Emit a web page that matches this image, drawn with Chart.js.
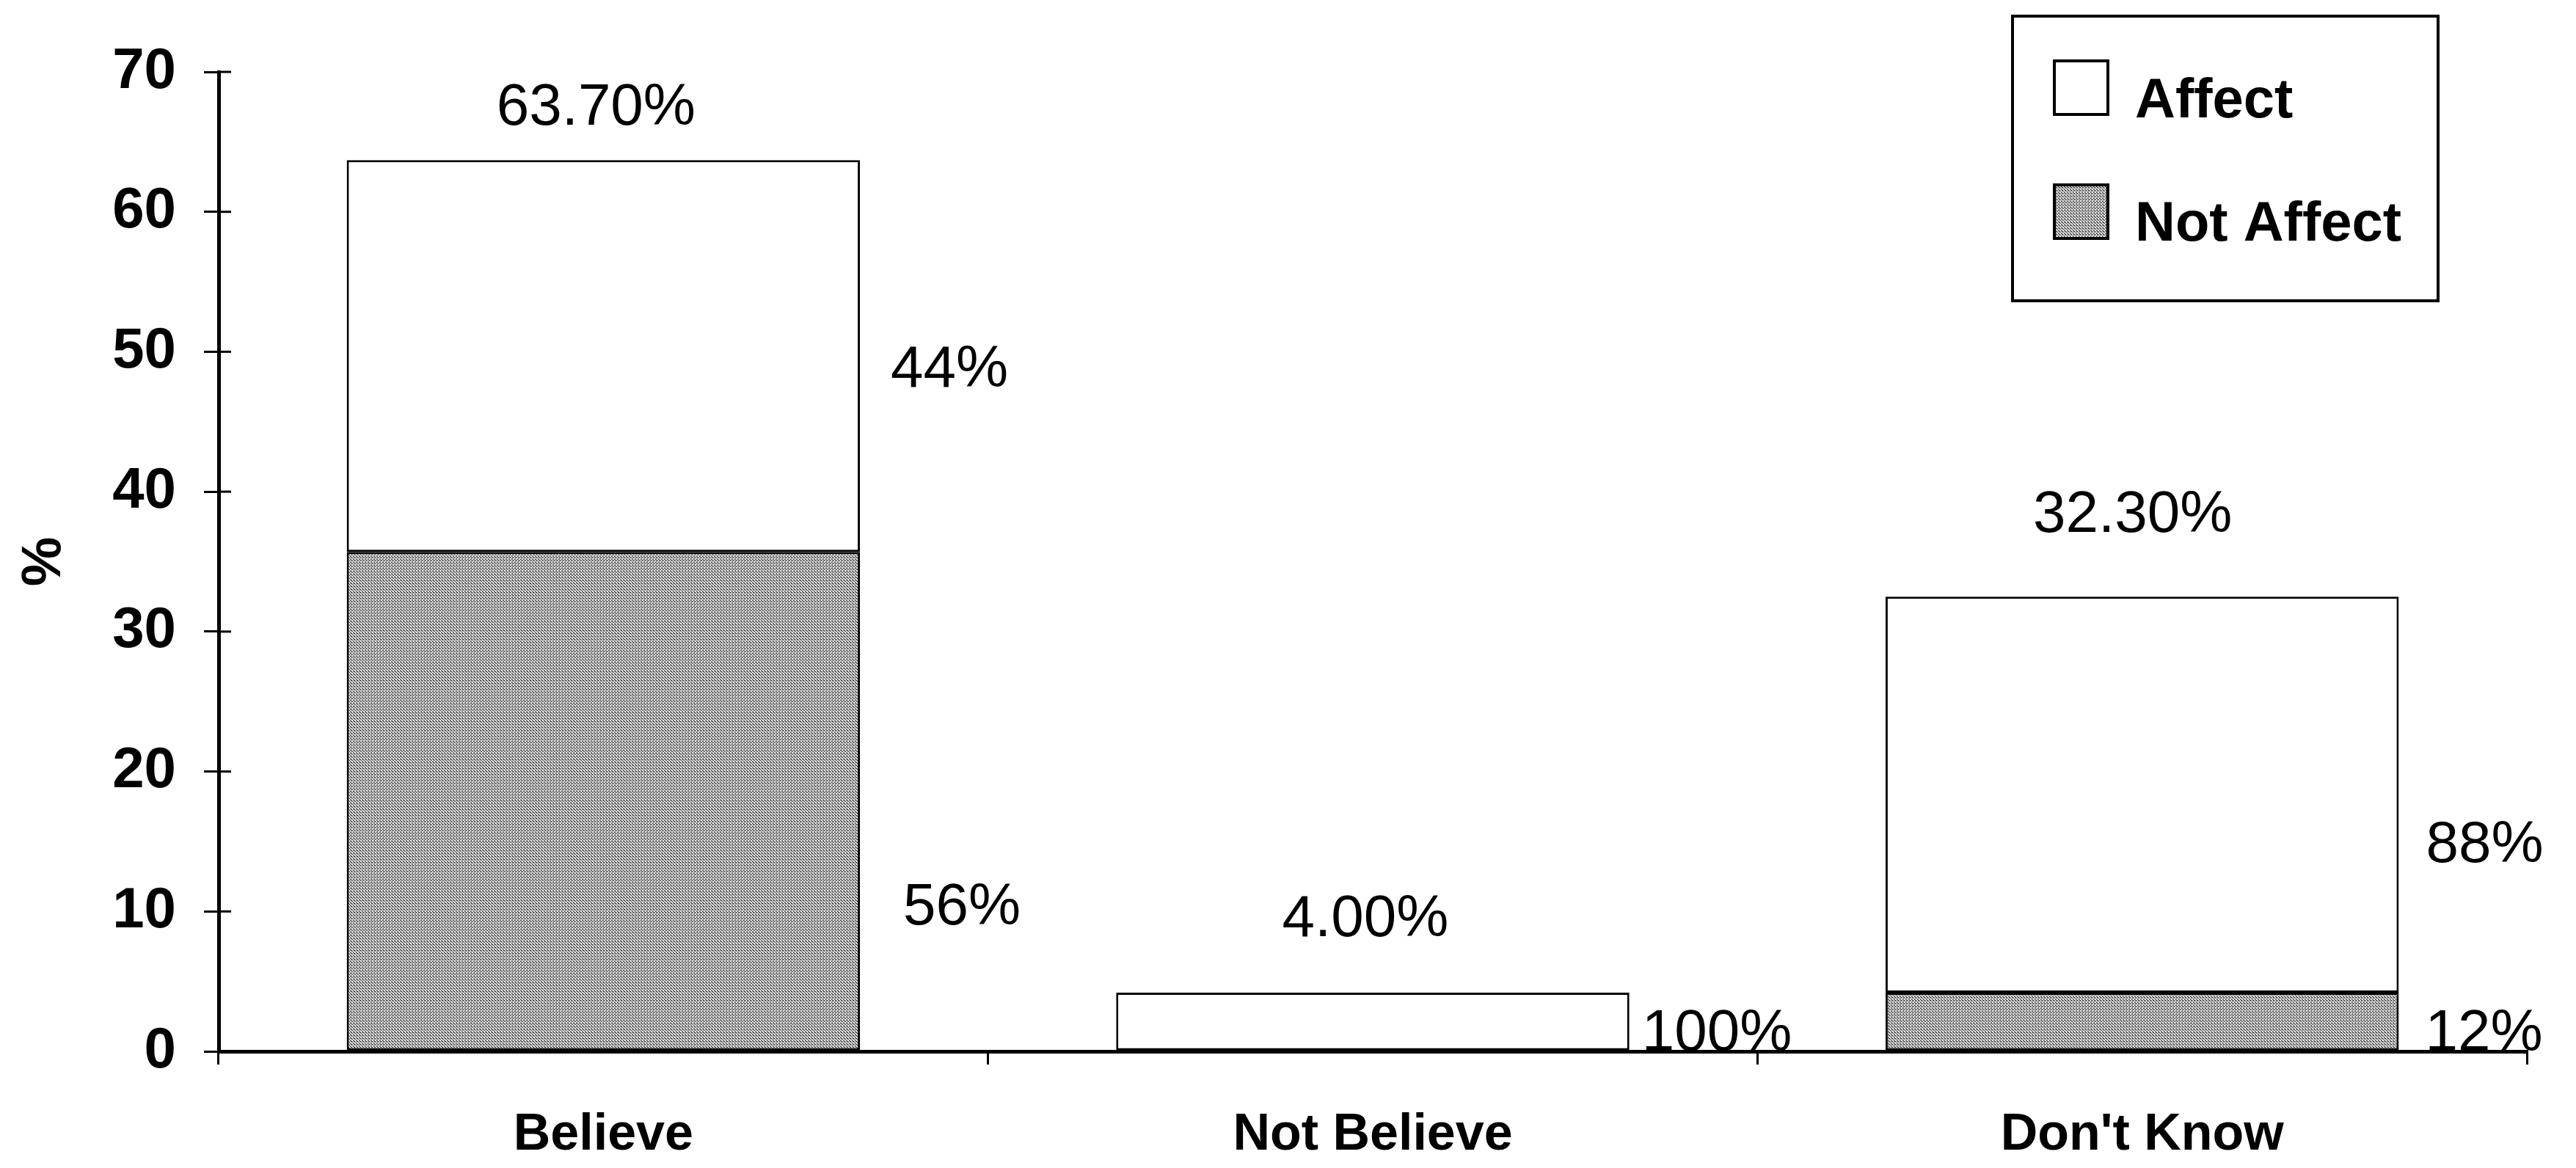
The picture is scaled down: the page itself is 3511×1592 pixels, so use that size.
<!DOCTYPE html>
<html><head><meta charset="utf-8">
<script src="https://cdn.jsdelivr.net/npm/chart.js@4.4.0/dist/chart.umd.min.js"></script>
<style>html,body{margin:0;padding:0;background:#fff;} canvas{display:block;}</style>
</head><body>
<canvas id="c" width="3511" height="1592"></canvas>
<script>
// ---- data ----
const categories = ["Believe", "Not Believe", "Don't Know"];
const seriesNames = ["Affect", "Not Affect"];
const notAffectValues = [35.7, 0, 4.2];
const affectValues = [28.0, 4.2, 28.3];
const totalLabels = ["63.70%", "4.00%", "32.30%"];
const affectShareLabels = ["44%", "100%", "88%"];
const notAffectShareLabels = ["56%", "", "12%"];
const yTickValues = [0, 10, 20, 30, 40, 50, 60, 70];

const FONT = '"Liberation Sans", Arial, Helvetica, sans-serif';

// stipple pattern for "Not Affect"
function makePattern() {
  const p = document.createElement('canvas');
  p.width = 4; p.height = 4;
  const g = p.getContext('2d');
  g.fillStyle = '#e2e2e2';
  g.fillRect(0, 0, 4, 4);
  g.fillStyle = '#1a1a1a';
  [[0,0],[2,1],[1,2],[3,3],[2,3]].forEach(([x,y]) => g.fillRect(x, y, 1, 1));
  return document.getElementById('c').getContext('2d').createPattern(p, 'repeat');
}
const stipple = makePattern();

const notesPlugin = {
  id: 'barNotes',
  afterDatasetsDraw(chart, args, opts) {
    const ctx = chart.ctx;
    const ys = chart.scales.y;
    const area = chart.chartArea;
    ctx.save();
    // inner tick stubs on y axis
    ctx.strokeStyle = '#000';
    ctx.lineWidth = 3;
    yTickValues.forEach(v => {
      const py = ys.getPixelForValue(v);
      ctx.beginPath();
      ctx.moveTo(area.left, py);
      ctx.lineTo(area.left + opts.innerTick, py);
      ctx.stroke();
    });
    // labels
    const fs = opts.fontSize;
    ctx.font = fs + 'px ' + FONT;
    ctx.fillStyle = '#000';
    ctx.textBaseline = 'alphabetic';
    const topMeta = chart.getDatasetMeta(1);
    categories.forEach((c, i) => {
      const bar = topMeta.data[i];
      const p = bar.getProps(['x', 'width'], true);
      ctx.textAlign = 'center';
      ctx.fillText(totalLabels[i], p.x + opts.totalDx[i], ys.getPixelForValue(opts.totalY[i]) + 0.358 * fs);
      ctx.textAlign = 'left';
      const right = p.x + p.width / 2;
      if (affectShareLabels[i]) {
        ctx.fillText(affectShareLabels[i], right + opts.affectDx[i], ys.getPixelForValue(opts.affectY[i]) + 0.358 * fs);
      }
      if (notAffectShareLabels[i]) {
        ctx.fillText(notAffectShareLabels[i], right + opts.notAffectDx[i], ys.getPixelForValue(opts.notAffectY[i]) + 0.358 * fs);
      }
    });
    // legend
    const L = opts.legend;
    ctx.lineWidth = 4;
    ctx.strokeStyle = '#000';
    ctx.fillStyle = '#fff';
    ctx.fillRect(L.x, L.y, L.w, L.h);
    ctx.strokeRect(L.x, L.y, L.w, L.h);
    ctx.font = 'bold ' + L.fontSize + 'px ' + FONT;
    ctx.textAlign = 'left';
    const fills = ['#ffffff', stipple];
    seriesNames.forEach((name, k) => {
      const sy = L.swatchY[k];
      ctx.fillStyle = fills[k];
      ctx.fillRect(L.swatchX, sy, L.swatch, L.swatch);
      ctx.lineWidth = 4;
      ctx.strokeRect(L.swatchX, sy, L.swatch, L.swatch);
      ctx.fillStyle = '#000';
      ctx.fillText(name, L.textX, L.textBase[k]);
    });
    ctx.restore();
  }
};

new Chart(document.getElementById('c'), {
  type: 'bar',
  data: {
    labels: categories,
    datasets: [
      { label: seriesNames[1], data: notAffectValues, backgroundColor: stipple, borderColor: '#000', borderWidth: 3, borderSkipped: false },
      { label: seriesNames[0], data: affectValues, backgroundColor: '#ffffff', borderColor: '#000', borderWidth: 3, borderSkipped: false }
    ]
  },
  options: {
    responsive: false,
    animation: false,
    devicePixelRatio: 1,
    layout: { padding: { top: 98, right: 67, left: 0, bottom: 0 } },
    datasets: { bar: { barPercentage: 0.667, categoryPercentage: 1.0 } },
    scales: {
      x: {
        stacked: true,
        afterFit: s => { s.height = 159; },
        border: { display: true, color: '#000', width: 5 },
        grid: { offset: true, drawOnChartArea: false, drawTicks: true, tickLength: 18, color: '#000', lineWidth: 3 },
        ticks: { color: '#000', padding: 55, font: { family: FONT, size: 70, weight: 'bold' } }
      },
      y: {
        stacked: true,
        min: 0, max: 70,
        afterFit: s => { s.width = 298; },
        afterBuildTicks: s => { s.ticks = yTickValues.map(v => ({ value: v })); },
        border: { display: true, color: '#000', width: 5 },
        grid: { drawOnChartArea: false, drawTicks: true, tickLength: 20, color: '#000', lineWidth: 3 },
        ticks: { color: '#000', padding: 38, font: { family: FONT, size: 78, weight: 'bold' } },
        title: { display: true, text: '%', color: '#000', padding: { top: 15, bottom: 0 }, font: { family: FONT, size: 76, weight: 'bold' } }
      }
    },
    plugins: {
      legend: { display: false },
      tooltip: { enabled: false },
      barNotes: {
        fontSize: 80,
        innerTick: 17,
        totalY: [67.75, 9.75, 38.65],
        totalDx: [-10, -10, -13],
        affectY: [49.0, 1.57, 15.05],
        affectDx: [42, 17, 37],
        notAffectY: [10.55, 0, 1.57],
        notAffectDx: [59, 0, 36],
        legend: { x: 2743, y: 22, w: 580, h: 388, swatchX: 2800, swatch: 73, swatchY: [83, 252], textX: 2910, textBase: [160, 328], fontSize: 76 }
      }
    }
  },
  plugins: [notesPlugin]
});
</script>
</body></html>
